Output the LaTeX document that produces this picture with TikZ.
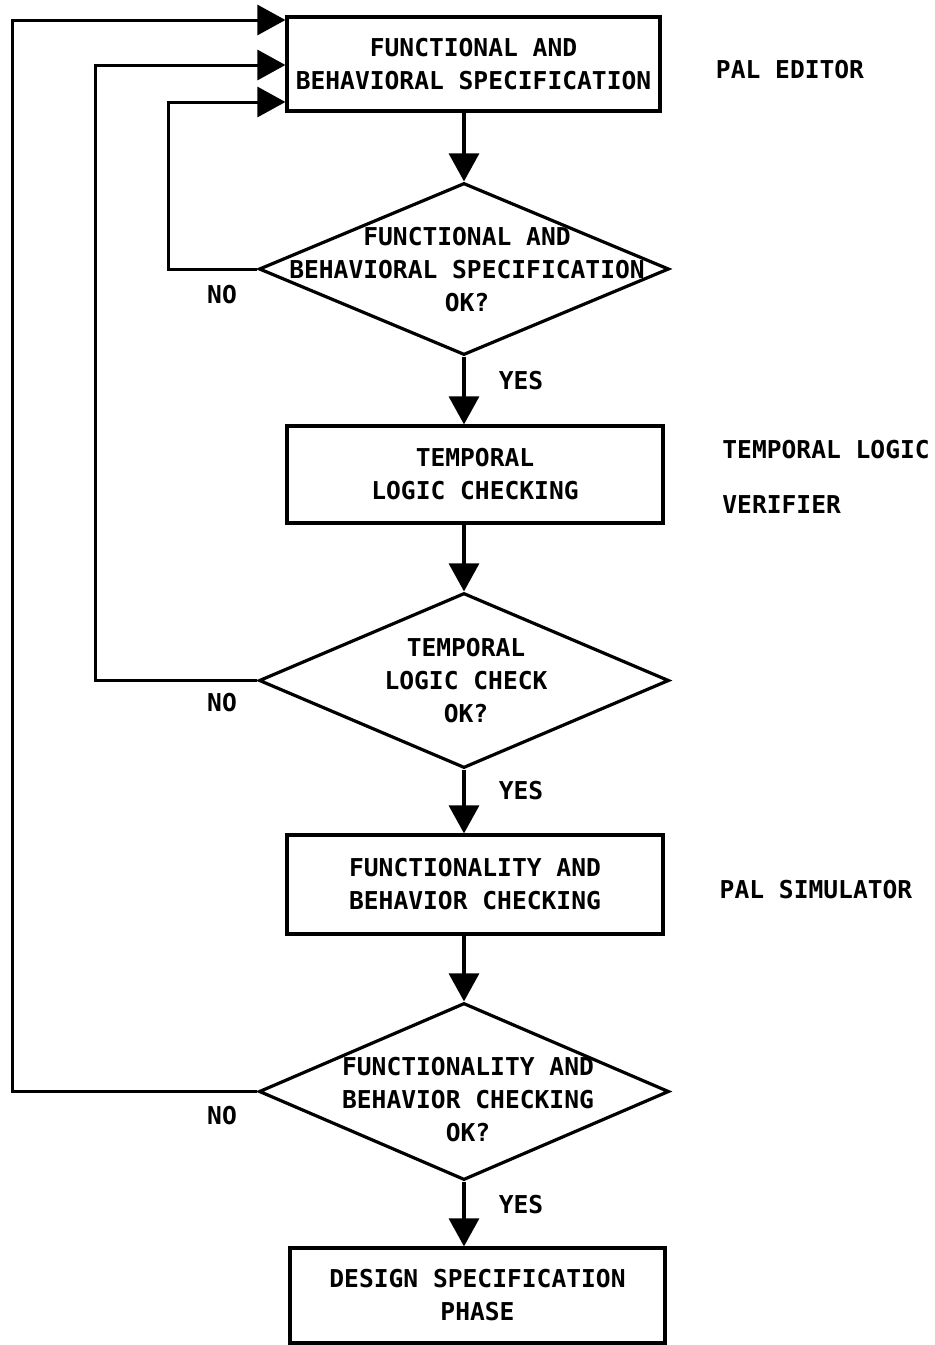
\documentclass[tikz,border=0pt]{standalone}
\usepackage{fontspec}
\newfontfamily\plotfont{DejaVu Sans Mono Bold}
\usetikzlibrary{shapes.geometric,arrows.meta}
\begin{document}
\begin{tikzpicture}[x=0.5pt,y=-0.5pt,
  txt/.style={font=\plotfont\fontsize{12.3}{16.5}\selectfont,align=center,inner sep=0pt},
  procbox/.style={draw,line width=1.6pt,inner sep=0pt,txt},
  decision/.style={draw,diamond,line width=1.6pt,inner sep=0pt},
  tip/.style={-{Triangle[length=14pt,width=15pt]}},
  flow/.style={line width=1.6pt,tip},
  loopline/.style={line width=1.5pt,tip}]
\useasboundingbox (0,0) rectangle (935,1345);

% process boxes
\node[procbox,minimum width=186.5pt,minimum height=47pt] (b1) at (473.5,64)
  {FUNCTIONAL AND\\BEHAVIORAL SPECIFICATION};
\node[procbox,minimum width=188pt,minimum height=48.5pt] (b2) at (475,474.5)
  {TEMPORAL\\LOGIC CHECKING};
\node[procbox,minimum width=188pt,minimum height=49.5pt] (b3) at (475,884.5)
  {FUNCTIONALITY AND\\BEHAVIOR CHECKING};
\node[procbox,minimum width=187.5pt,minimum height=47.5pt] (b4) at (477.5,1295.5)
  {DESIGN SPECIFICATION\\PHASE};

% decisions
\node[decision,minimum width=205pt,minimum height=86pt] (d1) at (464,269) {};
\node[decision,minimum width=205pt,minimum height=87.5pt] (d2) at (464,680.5) {};
\node[decision,minimum width=205pt,minimum height=88.5pt] (d3) at (464,1091.5) {};
\node[txt] (t1) at (467,270) {FUNCTIONAL AND\\BEHAVIORAL SPECIFICATION\\OK?};
\node[txt] (t2) at (466,681) {TEMPORAL\\LOGIC CHECK\\OK?};
\node[txt] (t3) at (468,1100) {FUNCTIONALITY AND\\BEHAVIOR CHECKING\\OK?};

% main flow
\draw[flow] (b1.south -| d1.north) -- (d1.north);
\draw[flow] (d1.south) -- (b2.north -| d1.south);
\draw[flow] (b2.south -| d2.north) -- (d2.north);
\draw[flow] (d2.south) -- (b3.north -| d2.south);
\draw[flow] (b3.south -| d3.north) -- (d3.north);
\draw[flow] (d3.south) -- (b4.north -| d3.south);

% feedback loops
\coordinate (c1) at (168,102);
\coordinate (c2) at (95,65);
\coordinate (c3) at (12,20);
\draw[loopline] (d1.west) -| (c1) -- (c1 -| b1.west);
\draw[loopline] (d2.west) -| (c2) -- (c2 -| b1.west);
\draw[loopline] (d3.west) -| (c3) -- (c3 -| b1.west);

% branch labels
\node[txt] (n1) at (222,295) {NO};
\node[txt] (n2) at (222,703) {NO};
\node[txt] (n3) at (222,1116) {NO};
\node[txt] (y1) at (521,381) {YES};
\node[txt] (y2) at (521,791) {YES};
\node[txt] (y3) at (521,1205) {YES};

% tool annotations
\node[txt] (s1) at (790,70) {PAL EDITOR};
\node[txt,anchor=west] (s2) at (722,450) {TEMPORAL LOGIC};
\node[txt,anchor=west] (s3) at (722,505) {VERIFIER};
\node[txt] (s4) at (816,890) {PAL SIMULATOR};
\end{tikzpicture}
\end{document}
